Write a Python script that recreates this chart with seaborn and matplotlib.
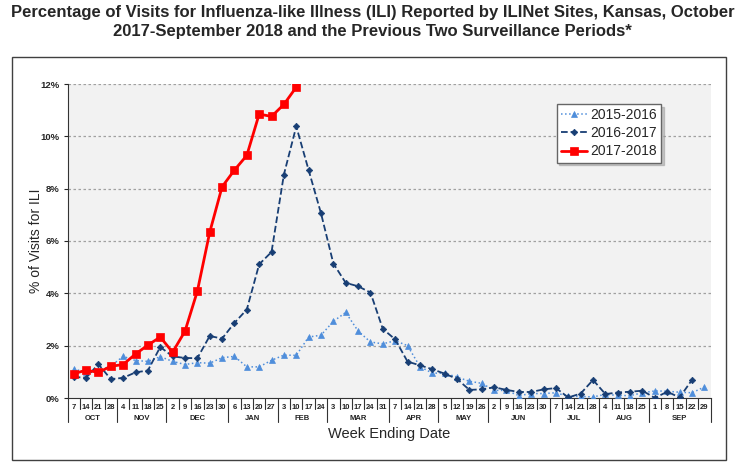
"""
Kansas ILINet: percentage of visits for influenza-like illness, three seasons.
"""

import numpy as np
import pandas as pd
import matplotlib
matplotlib.use("Agg")
import matplotlib.pyplot as plt
import matplotlib.patches as mpatches
import seaborn as sns

sns.set_style("white")
plt.rcParams['font.family'] = ['Liberation Sans', 'DejaVu Sans']

# Month groups and week-ending day labels (Oct .. Sep)
months = ['OCT', 'NOV', 'DEC', 'JAN', 'FEB', 'MAR', 'APR', 'MAY', 'JUN', 'JUL', 'AUG', 'SEP']
week_days = [
    [7, 14, 21, 28], [4, 11, 18, 25], [2, 9, 16, 23, 30], [6, 13, 20, 27],
    [3, 10, 17, 24], [3, 10, 17, 24, 31], [7, 14, 21, 28], [5, 12, 19, 26],
    [2, 9, 16, 23, 30], [7, 14, 21, 28], [4, 11, 18, 25], [1, 8, 15, 22, 29],
]

# % of visits for ILI
ili_2015_16 = [1.10, 1.00, 1.05, 1.22, 1.59, 1.43, 1.40, 1.58, 1.40, 1.28, 1.35, 1.33,
               1.54, 1.59, 1.19, 1.19, 1.44, 1.64, 1.63, 2.33, 2.40, 2.93, 3.27, 2.56,
               2.14, 2.07, 2.19, 2.00, 1.20, 0.95, 0.95, 0.80, 0.64, 0.56, 0.29, 0.29,
               0.09, 0.17, 0.17, 0.20, 0.06, 0.06, 0.04, 0.14, 0.10, 0.09, 0.20, 0.27,
               0.26, 0.22, 0.20, 0.42]
ili_2016_17 = [0.80, 0.78, 1.29, 0.72, 0.77, 0.98, 1.05, 1.95, 1.59, 1.53, 1.52, 2.37,
               2.27, 2.87, 3.38, 5.11, 5.58, 8.54, 10.38, 8.71, 7.06, 5.14, 4.40, 4.27,
               4.03, 2.64, 2.24, 1.39, 1.25, 1.10, 0.93, 0.73, 0.31, 0.33, 0.41, 0.31,
               0.23, 0.23, 0.33, 0.38, 0.02, 0.17, 0.69, 0.15, 0.21, 0.24, 0.28, 0.00,
               0.24, 0.02, 0.69]
ili_2017_18 = [0.93, 1.06, 0.98, 1.21, 1.28, 1.68, 2.02, 2.33, 1.75, 2.55, 4.08, 6.33,
               8.07, 8.71, 9.27, 10.85, 10.76, 11.22, 11.88]

day_labels = [d for grp in week_days for d in grp]
n_weeks = len(day_labels)

frames = []
for season, vals in [('2015-2016', ili_2015_16), ('2016-2017', ili_2016_17),
                     ('2017-2018', ili_2017_18)]:
    frames.append(pd.DataFrame({'week': np.arange(len(vals)), 'ili': vals, 'season': season}))
df = pd.concat(frames, ignore_index=True)

styles = {
    '2015-2016': dict(color='#4F8EDB', linestyle=':', marker='^', markersize=4.5, linewidth=1.1),
    '2016-2017': dict(color='#183E74', linestyle='--', marker='D', markersize=3.3, linewidth=1.3),
    '2017-2018': dict(color='#FF0000', linestyle='-', marker='s', markersize=6.3, linewidth=2.0),
}

fig = plt.figure(figsize=(7.45, 4.75), dpi=100)
ax = fig.add_axes([67.5 / 745, 77 / 475, 643 / 745, 314 / 475])
ax.set_facecolor('#F2F2F2')

for season, grp in df.groupby('season'):
    st = styles[season]
    sns.lineplot(data=grp, x='week', y='ili', ax=ax, label=season, color=st['color'],
                 linestyle=st['linestyle'], marker=st['marker'], markersize=st['markersize'],
                 linewidth=st['linewidth'], markeredgecolor=st['color'], markeredgewidth=0.5,
                 zorder=3)

ax.set_xlim(-0.5, n_weeks - 0.5)
ax.set_ylim(0, 12)
yt = np.arange(0, 13, 2)
ax.set_yticks(yt)
ax.set_yticklabels([f'{v}%' for v in yt], fontsize=6.8, fontweight='bold')
ax.tick_params(axis='y', length=3, width=0.8, pad=3, left=True, direction='out')
for v in yt[1:]:
    ax.axhline(v, color='#A0A0A0', linestyle=(0, (2, 2)), linewidth=0.9, zorder=1)

for side in ['top', 'right']:
    ax.spines[side].set_visible(False)
ax.spines['left'].set_color('#333333')
ax.spines['bottom'].set_color('#333333')

# Table-style category axis: week days, then months
ax.set_xticks([])
ax.set_xlabel('')
ax.set_ylabel('% of Visits for ILI', fontsize=10)
ax.yaxis.set_label_coords(-0.038, 0.5)
trans = ax.get_xaxis_transform()
pos = 0
for m, days in zip(months, week_days):
    for k, d in enumerate(days):
        x = pos + k
        ax.text(x, -0.02, str(d), transform=trans, ha='center', va='top', fontsize=5.5,
                fontweight='bold', color='#222222', clip_on=False)
        if k > 0:
            ax.plot([x - 0.5, x - 0.5], [0, -0.035], transform=trans, color='#333333',
                    linewidth=0.8, clip_on=False)
    ax.plot([pos - 0.5, pos - 0.5], [0, -0.075], transform=trans, color='#333333',
            linewidth=0.8, clip_on=False)
    ax.text(pos + (len(days) - 1) / 2, -0.055, m, transform=trans, ha='center', va='top',
            fontsize=5.5, fontweight='bold', color='#222222', clip_on=False)
    pos += len(days)
ax.plot([pos - 0.5, pos - 0.5], [0, -0.075], transform=trans, color='#333333',
        linewidth=0.8, clip_on=False)
ax.text(0.5, -0.093, 'Week Ending Date', transform=ax.transAxes, ha='center', va='top',
        fontsize=10.5)

leg = ax.legend(loc='upper left', bbox_to_anchor=(489 / 643, 1 - 20 / 314), fontsize=10,
                frameon=True, fancybox=False, shadow={'ox': 2, 'oy': -2, 'color': '#999999'},
                handlelength=1.9, handletextpad=0.25, borderpad=0.3, labelspacing=0.3,
                borderaxespad=0)
leg.get_frame().set_edgecolor('#666666')
leg.get_frame().set_linewidth(1.0)
leg.get_frame().set_facecolor('white')

fig.text(0.5, 0.99, 'Percentage of Visits for Influenza-like Illness (ILI) Reported by ILINet Sites, Kansas, October\n'
         '2017-September 2018 and the Previous Two Surveillance Periods*',
         ha='center', va='top', fontsize=12, fontweight='bold', linespacing=1.35,
         family=['Liberation Sans Narrow', 'Liberation Sans', 'DejaVu Sans'])

fig.patches.append(mpatches.Rectangle((12 / 745, 15 / 475), 714 / 745, 403 / 475,
                                      transform=fig.transFigure, fill=False,
                                      edgecolor='#404040', linewidth=1.0))

plt.savefig('out.png', dpi=100)
plt.close()
